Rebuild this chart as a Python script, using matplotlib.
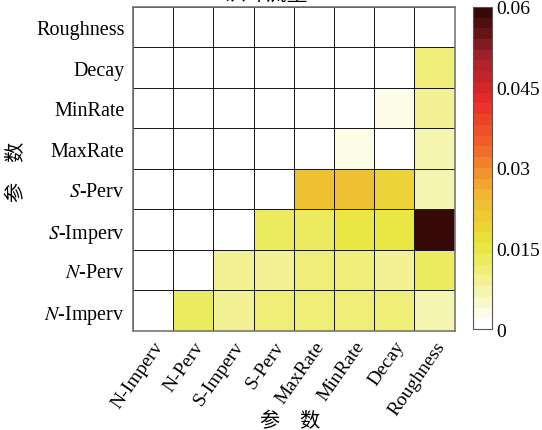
import numpy as np
import matplotlib
matplotlib.use('Agg')
import matplotlib.pyplot as plt
from matplotlib.colors import LinearSegmentedColormap, ListedColormap

plt.rcParams['font.family'] = ['Liberation Serif', 'Noto Sans CJK SC']
plt.rcParams['mathtext.fontset'] = 'stix'

# 参数名称（从下往上 / 从左往右）
params = ['$N$-Imperv', '$N$-Perv', '$S$-Imperv', '$S$-Perv',
          'MaxRate', 'MinRate', 'Decay', 'Roughness']
xlabels = ['N-Imperv', 'N-Perv', 'S-Imperv', 'S-Perv',
           'MaxRate', 'MinRate', 'Decay', 'Roughness']

# 每一行的敏感度值（行：N-Imperv ... Roughness，列同上）
row_n_imperv = [0, 0.012, 0.008, 0.011, 0.011, 0.011, 0.011, 0.007]
row_n_perv   = [0, 0, 0.008, 0.008, 0.011, 0.011, 0.009, 0.013]
row_s_imperv = [0, 0, 0, 0.013, 0.012, 0.015, 0.015, 0.059]
row_s_perv   = [0, 0, 0, 0, 0.022, 0.022, 0.019, 0.007]
row_maxrate  = [0, 0, 0, 0, 0, 0.003, 0, 0.006]
row_minrate  = [0, 0, 0, 0, 0, 0, 0.003, 0.008]
row_decay    = [0, 0, 0, 0, 0, 0, 0, 0.011]
row_rough    = [0, 0, 0, 0, 0, 0, 0, 0]

data = np.array([row_n_imperv, row_n_perv, row_s_imperv, row_s_perv,
                 row_maxrate, row_minrate, row_decay, row_rough])

# 白-黄-橙-红-暗红 分段色带，30级
base = LinearSegmentedColormap.from_list('whr', [
    (0.0, '#ffffff'), (0.25, '#e8e63c'), (0.42, '#f2b430'),
    (0.58, '#f06028'), (0.72, '#e8282a'), (0.86, '#a0202a'), (1.0, '#360808')])
cmap = ListedColormap(base(np.linspace(0, 1, 30)))

fig = plt.figure(figsize=(5.42, 4.31), dpi=100)
ax = fig.add_axes([0.245, 0.230, 0.594, 0.752])
cax = fig.add_axes([0.873, 0.234, 0.035, 0.748])

mesh = ax.pcolormesh(data, cmap=cmap, vmin=0, vmax=0.06,
                     edgecolors='#1a1a1a', linewidth=0.6)
ax.set_xlim(0, 8)
ax.set_ylim(0, 8)
ax.set_xticks(np.arange(8) + 0.5)
ax.set_yticks(np.arange(8) + 0.5)
ax.set_xticklabels(xlabels, rotation=55, ha='right', rotation_mode='anchor', fontsize=14)
ax.set_yticklabels(params, fontsize=14.5)
ax.tick_params(axis='y', length=0, pad=6)
ax.tick_params(axis='x', length=0, pad=5)
for s in ax.spines.values():
    s.set_color('#777777')
    s.set_linewidth(1.2)

# 坐标轴名称
fig.text(0.536, 1 - 422 / 431, '参    数', ha='center', va='center', fontsize=14.5)
fig.text(0.033, 1 - 172 / 431, '参    数', ha='center', va='center', fontsize=14.5, rotation=90)

cb = fig.colorbar(mesh, cax=cax, ticks=[0, 0.015, 0.03, 0.045, 0.06])
cb.ax.set_yticklabels(['0', '0.015', '0.03', '0.045', '0.06'], fontsize=14)
cb.ax.tick_params(length=0, pad=3)
cb.outline.set_edgecolor('#555555')

# 标题（上方被裁切）
fig.text(0.49, 1.0 - 1 / 431, '洪峰流量', ha='center', va='baseline', fontsize=15)

fig.savefig('out.png', dpi=100)
